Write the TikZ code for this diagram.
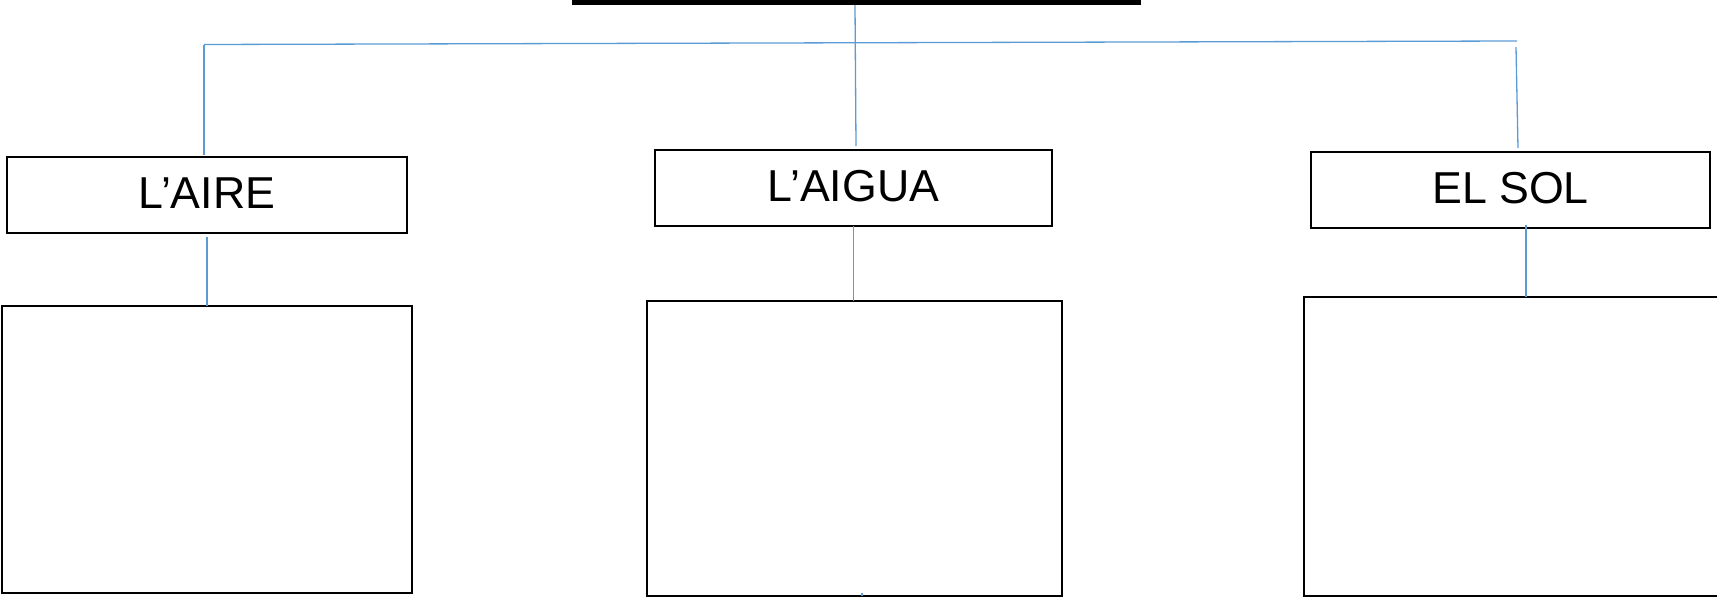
\documentclass[tikz,border=0pt]{standalone}
\usepackage{fontspec}
\setmainfont{Liberation Sans}
\definecolor{linkblue}{RGB}{91,155,213}
\begin{document}
\begin{tikzpicture}[x=1pt,y=-1pt,
  titlebox/.style={draw=black,line width=2pt,inner sep=0pt,outer sep=0pt,
    font=\fontsize{44.7}{50}\selectfont,text height=32pt,text depth=5pt},
  bigbox/.style={draw=black,line width=2.4pt,inner sep=0pt,outer sep=0pt},
  link/.style={draw=linkblue,line width=1.3pt}]
\useasboundingbox (0,0) rectangle (1717,597);
\clip (0,0) rectangle (1717,597);
% top bar
\node[fill=black,inner sep=0pt,outer sep=0pt,minimum width=569pt,minimum height=5pt] (top) at (856.5,2.5) {};
% title boxes
\node[titlebox,minimum width=400pt,minimum height=76pt] (aire) at (207,195) {L’AIRE};
\node[titlebox,minimum width=397pt,minimum height=76pt] (aigua) at (853.5,188) {L’AIGUA};
\node[titlebox,minimum width=399pt,minimum height=76pt] (sol) at (1510.5,190) {EL SOL};
% big boxes
\node[bigbox,minimum width=410pt,minimum height=287pt] (b1) at (207,449.5) {};
\node[bigbox,minimum width=415pt,minimum height=295pt] (b2) at (854.5,448.5) {};
\node[bigbox,minimum width=420pt,minimum height=299pt] (b3) at (1514,446.5) {};
% connector end points
\coordinate (hl) at (204,44.5);
\coordinate (hr) at (1517,41);
\coordinate (ctop) at (855,5);
\coordinate (cbot) at (856,146);
\coordinate (lbot) at (204,155);
\coordinate (rtop) at (1516,47);
\coordinate (rbot) at (1518,148);
\coordinate (a1) at (207,237);
\coordinate (s1) at (1526,225);
\coordinate (tick) at (862,593);
% connectors
\draw[link] (hl) -- (hr);
\draw[link] (ctop) -- (cbot);
\draw[link] (hl) -- (lbot);
\draw[link] (rtop) -- (rbot);
\draw[link] (a1) -- (b1.north -| a1);
\draw[link] (aigua.south) -- (b2.north -| aigua.south);
\draw[link] (s1) -- (b3.north -| s1);
\draw[link] (tick) -- (b2.south -| tick);
\end{tikzpicture}
\end{document}
